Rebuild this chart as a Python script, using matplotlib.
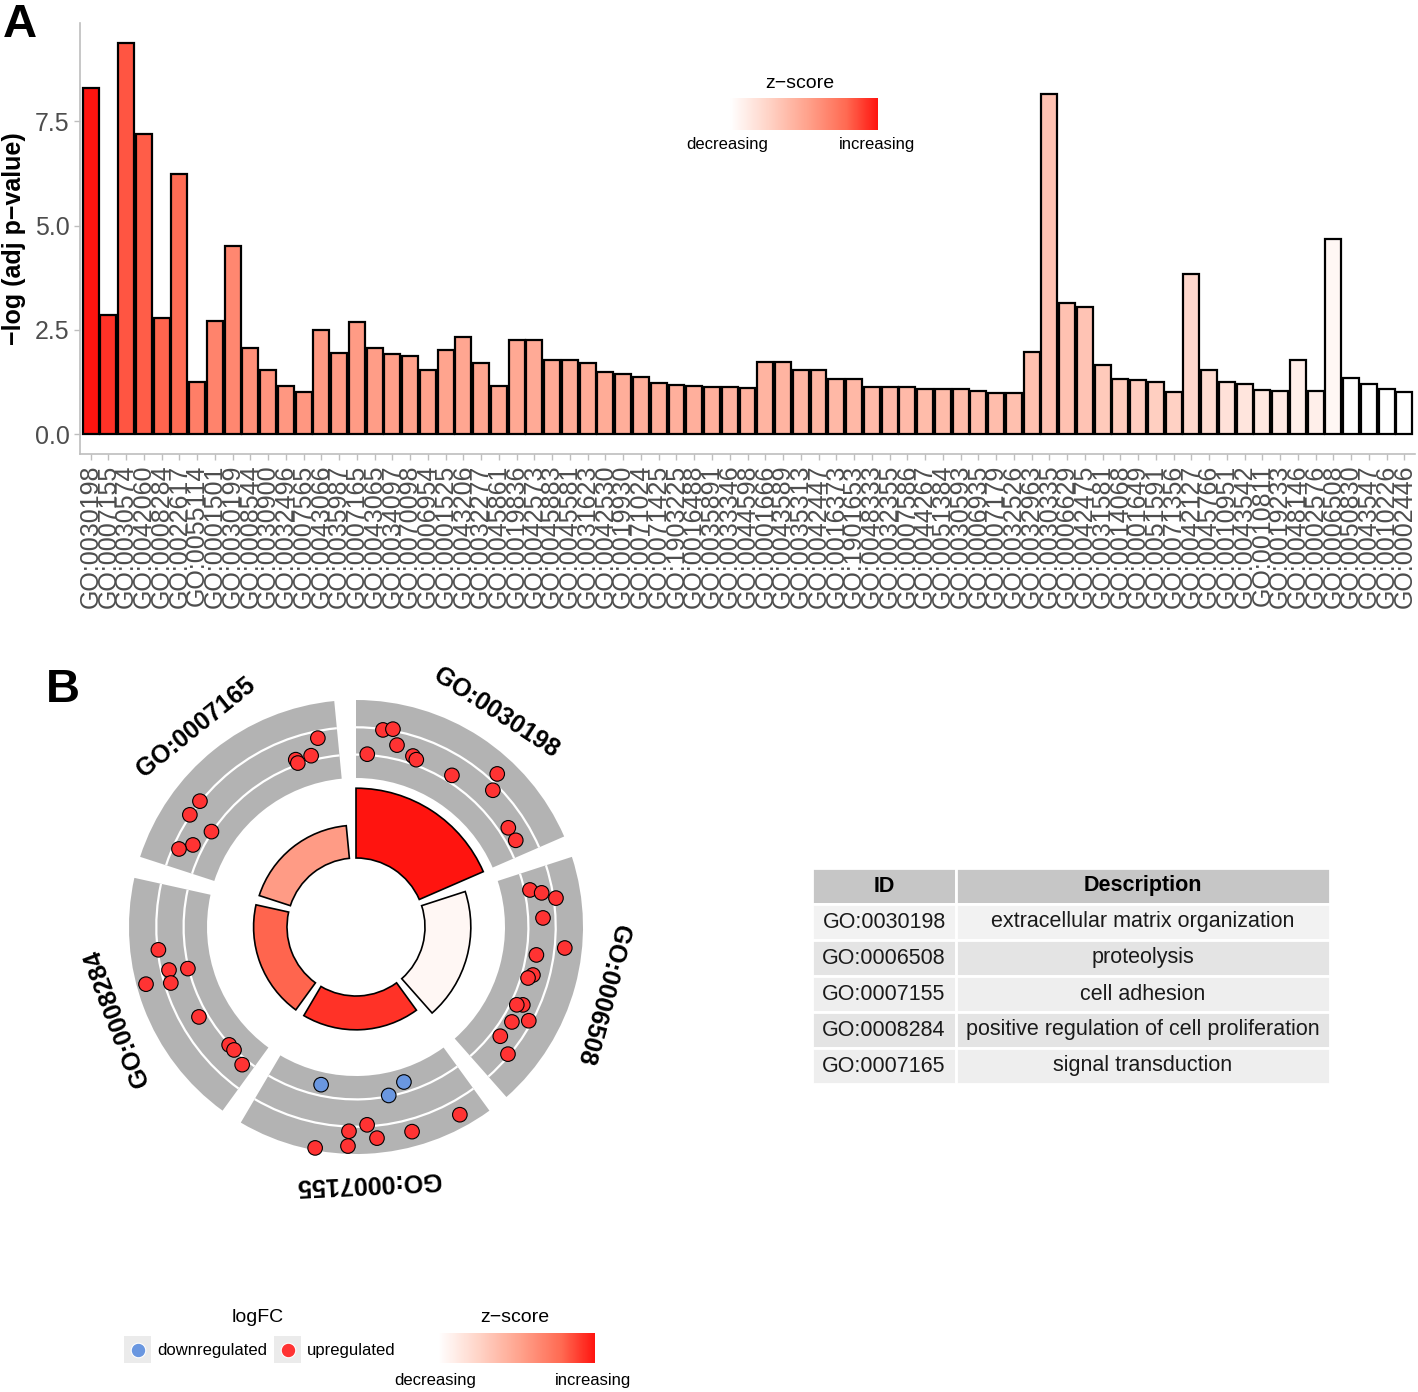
import numpy as np
import matplotlib
matplotlib.use('Agg')
import matplotlib.pyplot as plt
from matplotlib.colors import LinearSegmentedColormap
from matplotlib.patches import Wedge, Rectangle, Arc

plt.rcParams['font.family'] = ['Liberation Sans', 'DejaVu Sans']

# ---- panel A data: GO terms, -log(adj p) and relative z-score (0 = lowest, 1 = highest)
go_ids = ['GO:0030198', 'GO:0007155', 'GO:0030574', 'GO:0042060', 'GO:0008284',
          'GO:0022617', 'GO:0055114', 'GO:0001501', 'GO:0030199', 'GO:0008544',
          'GO:0030900', 'GO:0032496', 'GO:0007565', 'GO:0043066', 'GO:0035987',
          'GO:0007165', 'GO:0043065', 'GO:0034097', 'GO:0070098', 'GO:0006954',
          'GO:0001525', 'GO:0043206', 'GO:0032277', 'GO:0045861', 'GO:0019836',
          'GO:0042573', 'GO:0045883', 'GO:0045581', 'GO:0031623', 'GO:0042530',
          'GO:0019930', 'GO:0071024', 'GO:0071425', 'GO:1903225', 'GO:0016488',
          'GO:0035891', 'GO:0033346', 'GO:0044598', 'GO:0001666', 'GO:0043589',
          'GO:0035313', 'GO:0042447', 'GO:0016373', 'GO:1901653', 'GO:0048333',
          'GO:0032355', 'GO:0007586', 'GO:0044267', 'GO:0051384', 'GO:0030593',
          'GO:0006935', 'GO:0007179', 'GO:0032526', 'GO:0032963', 'GO:0030335',
          'GO:0006629', 'GO:0042475', 'GO:0031581', 'GO:0014068', 'GO:0001649',
          'GO:0051591', 'GO:0071356', 'GO:0042127', 'GO:0045766', 'GO:0010951',
          'GO:0043542', 'GO:0010811', 'GO:0019233', 'GO:0048146', 'GO:0002576',
          'GO:0006508', 'GO:0050830', 'GO:0043547', 'GO:0010226', 'GO:0002446']

neg_log_p = [8.30, 2.85, 9.38, 7.20, 2.79, 6.23, 1.26, 2.72, 4.50, 2.06,
             1.55, 1.15, 1.02, 2.51, 1.95, 2.69, 2.08, 1.93, 1.88, 1.53,
             2.01, 2.32, 1.71, 1.15, 2.27, 2.27, 1.78, 1.78, 1.71, 1.50,
             1.44, 1.38, 1.22, 1.19, 1.15, 1.13, 1.13, 1.11, 1.73, 1.73,
             1.54, 1.54, 1.33, 1.33, 1.13, 1.13, 1.13, 1.09, 1.09, 1.09,
             1.05, 0.99, 0.99, 1.97, 8.14, 3.15, 3.05, 1.65, 1.33, 1.29,
             1.26, 1.02, 3.83, 1.53, 1.25, 1.20, 1.07, 1.04, 1.79, 1.03,
             4.67, 1.34, 1.21, 1.09, 1.01]

zscore = [0.95, 0.88, 0.80, 0.78, 0.76, 0.74, 0.66, 0.64, 0.62, 0.58,
          0.56, 0.55, 0.55, 0.54, 0.53, 0.53, 0.52, 0.51, 0.50, 0.50,
          0.49, 0.48, 0.48, 0.47, 0.47, 0.46, 0.46, 0.45, 0.45, 0.45,
          0.44, 0.44, 0.44, 0.43, 0.43, 0.43, 0.42, 0.42, 0.41, 0.41,
          0.40, 0.40, 0.39, 0.39, 0.38, 0.38, 0.38, 0.37, 0.37, 0.37,
          0.36, 0.36, 0.35, 0.35, 0.34, 0.34, 0.33, 0.30, 0.29, 0.28,
          0.27, 0.26, 0.22, 0.20, 0.17, 0.15, 0.13, 0.12, 0.10, 0.09,
          0.05, 0.00, 0.00, 0.00, 0.00]

# ---- panel B data: circle terms and the genes of each term
circ_terms = ['GO:0030198', 'GO:0006508', 'GO:0007155', 'GO:0008284', 'GO:0007165']
circ_desc = ['extracellular matrix organization', 'proteolysis', 'cell adhesion',
             'positive regulation of cell proliferation', 'signal transduction']

# relative position of each gene inside its sector, and its logFC
gene_pos = [
    [0.117, 0.159, 0.056, 0.191, 0.277, 0.298, 0.486, 0.642, 0.677, 0.856, 0.925],
    [0.090, 0.114, 0.147, 0.229, 0.357, 0.403, 0.499, 0.519, 0.647, 0.659, 0.742, 0.699, 0.829, 0.871],
    [0.106, 0.283, 0.376, 0.311, 0.456, 0.493, 0.571, 0.573, 0.729, 0.699],
    [0.713, 0.583, 0.617, 0.559, 0.603, 0.364, 0.167, 0.132, 0.054],
    [0.911, 0.862, 0.785, 0.789, 0.314, 0.241, 0.232, 0.131, 0.087],
]
gene_lfc = [
    [3.4, 3.7, 0.1, 1.8, 1.0, 0.7, 0.9, 4.6, 2.7, 1.2, 1.2],
    [0.7, 2.1, 3.8, 1.9, 4.8, 1.3, 1.4, 0.9, 1.5, 0.8, 1.3, 3.1, 1.1, 3.3],
    [5.4, -1.3, -0.1, 5.1, 5.1, 3.3, 4.1, 6.0, -1.4, 6.7],
    [3.4, 5.8, 2.5, 2.7, 0.1, 1.1, 0.1, 0.1, 0.8],
    [2.6, 0.6, 0.7, 0.2, 3.6, 3.6, 0.1, 1.3, 2.7],
]

cmap = LinearSegmentedColormap.from_list(
    'zs', ['#FFFFFF', '#FFD3C6', '#FFA28C', '#FF6A52', '#FF0000'])
up_col = '#FF3333'
down_col = '#6A97E0'

fig = plt.figure(figsize=(14.18, 13.92), dpi=100)
W, H = 1418, 1392


def px_box(x0, y0, x1, y1):
    return [x0 / W, 1 - y1 / H, (x1 - x0) / W, (y1 - y0) / H]


# ---------------- panel A: bar chart ----------------
ax = fig.add_axes(px_box(80, 23, 1415, 454))
x = np.arange(1, len(go_ids) + 1)
ax.bar(x, neg_log_p, width=0.9, color=cmap(np.array(zscore)),
       edgecolor='black', linewidth=1.6)
ax.set_xlim(0.4, len(go_ids) + 0.6)
ax.set_ylim(-0.47, 9.85)
ax.set_yticks([0, 2.5, 5.0, 7.5])
ax.set_yticklabels(['0.0', '2.5', '5.0', '7.5'])
ax.set_xticks(x)
ax.set_xticklabels(go_ids, rotation=90)
ax.tick_params(axis='both', colors='#BEBEBE', labelcolor='#4D4D4D',
               labelsize=18, length=4, width=1)
for s in ['top', 'right']:
    ax.spines[s].set_visible(False)
for s in ['left', 'bottom']:
    ax.spines[s].set_color('#BEBEBE')
    ax.spines[s].set_linewidth(1.2)
ax.set_ylabel('\u2212log (adj p\u2212value)', fontsize=18, fontweight='bold', labelpad=6)

# ---------------- panel B: GO circle ----------------
axc = fig.add_axes(px_box(56, 627, 656, 1227))
axc.set_xlim(-300, 300)
axc.set_ylim(-300, 300)
axc.set_axis_off()

r_in = 69          # inner radius of the term bars
ring_in, ring_out = 149, 227
lfc_min, lfc_max = -3, 7
sector = 360 / len(circ_terms)
span = 66.5

for i, term in enumerate(circ_terms):
    a0 = 90 - sector * i
    a1 = a0 - span
    k = go_ids.index(term)
    h = 15 + 6.6 * neg_log_p[k]
    axc.add_patch(Wedge((0, 0), r_in + h, a1, a0, width=h,
                        facecolor=cmap(zscore[k]), edgecolor='black', linewidth=1.2))
    # outer gene ring
    axc.add_patch(Wedge((0, 0), ring_out, a1, a0, width=ring_out - ring_in,
                        facecolor='#B3B3B3', edgecolor='none'))
    for lv in [0, 3.5]:
        rr = ring_in + (lv - lfc_min) / (lfc_max - lfc_min) * (ring_out - ring_in)
        axc.add_patch(Arc((0, 0), 2 * rr, 2 * rr, theta1=a1, theta2=a0,
                          color='white', linewidth=1.6))
    # genes
    ang = np.radians(a0 - np.array(gene_pos[i]) * span)
    lfc = np.array(gene_lfc[i])
    rr = ring_in + (lfc - lfc_min) / (lfc_max - lfc_min) * (ring_out - ring_in)
    cols = [up_col if v > 0 else down_col for v in lfc]
    axc.scatter(rr * np.cos(ang), rr * np.sin(ang), s=110, c=cols,
                edgecolors='black', linewidths=0.8, zorder=5)
    # label
    mid = a0 - span / 2
    axc.text(256 * np.cos(np.radians(mid)), 256 * np.sin(np.radians(mid)), term,
             rotation=mid - 90, rotation_mode='anchor', ha='center', va='center',
             fontsize=18, fontweight='bold')

# ---------------- overlay: letters, legends, table ----------------
ov = fig.add_axes([0, 0, 1, 1])
ov.set_axis_off()
ov.patch.set_visible(False)

ov.text(3, 37, 'A', fontsize=34, fontweight='bold', va='baseline')
ov.text(46, 702, 'B', fontsize=34, fontweight='bold', va='baseline')

grad = np.linspace(0, max(zscore), 256).reshape(1, -1)

# z-score legend of panel A
ov.text(800, 83, 'z\u2212score', fontsize=14, ha='center', va='center')
ov.imshow(grad, extent=[730, 878, 130, 98], cmap=cmap, vmin=0, vmax=1, aspect='auto')
ov.text(727, 145, 'decreasing', fontsize=12, ha='center', va='center')
ov.text(877, 145, 'increasing', fontsize=12, ha='center', va='center')

# legends of panel B
ov.text(258, 1318, 'logFC', fontsize=14, ha='center', va='center')
for kx, col, lab in [(124, down_col, 'downregulated'), (274, up_col, 'upregulated')]:
    ov.add_patch(Rectangle((kx, 1336), 27, 27, facecolor='#EBEBEB', edgecolor='none'))
    ov.scatter([kx + 13.5], [1349.5], s=110, c=col, edgecolors='white', linewidths=0.8)
    ov.text(kx + 33, 1350, lab, fontsize=12, ha='left', va='center')

ov.text(515, 1318, 'z\u2212score', fontsize=14, ha='center', va='center')
ov.imshow(grad, extent=[438, 595, 1363, 1333], cmap=cmap, vmin=0, vmax=1, aspect='auto')
ov.text(435, 1380, 'decreasing', fontsize=12, ha='center', va='center')
ov.text(593, 1380, 'increasing', fontsize=12, ha='center', va='center')

# table of terms
row_h = 36
col_x = [812, 956, 1330]
table_top = 868
header_fill = '#C6C6C6'
row_fill = ['#F2F2F2', '#E4E4E4', '#EEEEEE', '#E4E4E4', '#EEEEEE']
ov.add_patch(Rectangle((col_x[0], table_top), col_x[1] - col_x[0], row_h,
                       facecolor=header_fill, edgecolor='white', linewidth=2))
ov.add_patch(Rectangle((col_x[1], table_top), col_x[2] - col_x[1], row_h,
                       facecolor=header_fill, edgecolor='white', linewidth=2))
ov.text((col_x[0] + col_x[1]) / 2, table_top + row_h / 2, 'ID', fontsize=15.5,
        fontweight='bold', ha='center', va='center')
ov.text((col_x[1] + col_x[2]) / 2, table_top + row_h / 2, 'Description', fontsize=15.5,
        fontweight='bold', ha='center', va='center')
for i, (term, desc) in enumerate(zip(circ_terms, circ_desc)):
    y0 = table_top + row_h * (i + 1)
    for c in range(2):
        ov.add_patch(Rectangle((col_x[c], y0), col_x[c + 1] - col_x[c], row_h,
                               facecolor=row_fill[i], edgecolor='white', linewidth=2))
    ov.text((col_x[0] + col_x[1]) / 2, y0 + row_h / 2, term, fontsize=15.5,
            ha='center', va='center', color='#1A1A1A')
    ov.text((col_x[1] + col_x[2]) / 2, y0 + row_h / 2, desc, fontsize=15.5,
            ha='center', va='center', color='#1A1A1A')

ov.set_xlim(0, W)
ov.set_ylim(H, 0)

fig.savefig('out.png', dpi=100)
